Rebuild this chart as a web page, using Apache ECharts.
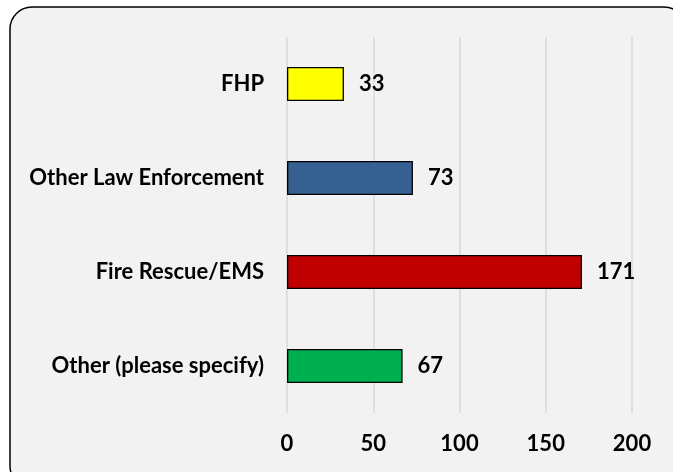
<!DOCTYPE html>
<html>
<head>
<meta charset="utf-8">
<script src="https://cdn.jsdelivr.net/npm/echarts@6/dist/echarts.min.js"></script>
<style>
  html, body { margin: 0; padding: 0; background: #ffffff; }
  #chart { width: 673px; height: 472px; }
</style>
</head>
<body>
<div id="chart"></div>
<script>
// Responding agencies and their counts
const categories = ['FHP', 'Other Law Enforcement', 'Fire Rescue/EMS', 'Other (please specify)'];
const counts = [33, 73, 171, 67];
const barColors = ['#FFFF00', '#376092', '#C00000', '#00B050'];
const axisTicks = [0, 50, 100, 150, 200];

const FONT = 'Lato, "Liberation Sans", sans-serif';
const FONT_SIZE = 22;

const chart = echarts.init(document.getElementById('chart'), null, { renderer: 'canvas' });

chart.setOption({
  backgroundColor: '#ffffff',
  animation: false,
  graphic: [{
    type: 'rect',
    z: -10,
    silent: true,
    shape: { x: 10, y: 7, width: 676, height: 481, r: 22 },
    style: { fill: '#F2F2F2', stroke: '#000000', lineWidth: 1.5 }
  }],
  grid: { left: 287, right: 41, top: 37, bottom: 59, containLabel: false },
  xAxis: {
    type: 'value',
    min: axisTicks[0],
    max: axisTicks[axisTicks.length - 1],
    interval: axisTicks[1] - axisTicks[0],
    axisLine: { show: false },
    axisTick: { show: false },
    splitLine: { show: true, lineStyle: { color: '#D9D9D9', width: 1.5 } },
    axisLabel: {
      margin: 20,
      color: '#000000',
      fontFamily: FONT,
      fontWeight: 'bold',
      fontSize: FONT_SIZE
    }
  },
  yAxis: {
    type: 'category',
    inverse: true,
    data: categories,
    axisLine: { show: false },
    axisTick: { show: false },
    axisLabel: {
      margin: 23,
      color: '#000000',
      fontFamily: FONT,
      fontWeight: 'bold',
      fontSize: FONT_SIZE
    }
  },
  series: [{
    type: 'bar',
    barWidth: 34,
    data: counts.map((v, i) => ({
      value: v,
      itemStyle: { color: barColors[i], borderColor: '#000000', borderWidth: 1.3 }
    })),
    label: {
      show: true,
      position: 'right',
      distance: 15,
      color: '#000000',
      fontFamily: FONT,
      fontWeight: 'bold',
      fontSize: FONT_SIZE
    }
  }]
});
</script>
</body>
</html>
